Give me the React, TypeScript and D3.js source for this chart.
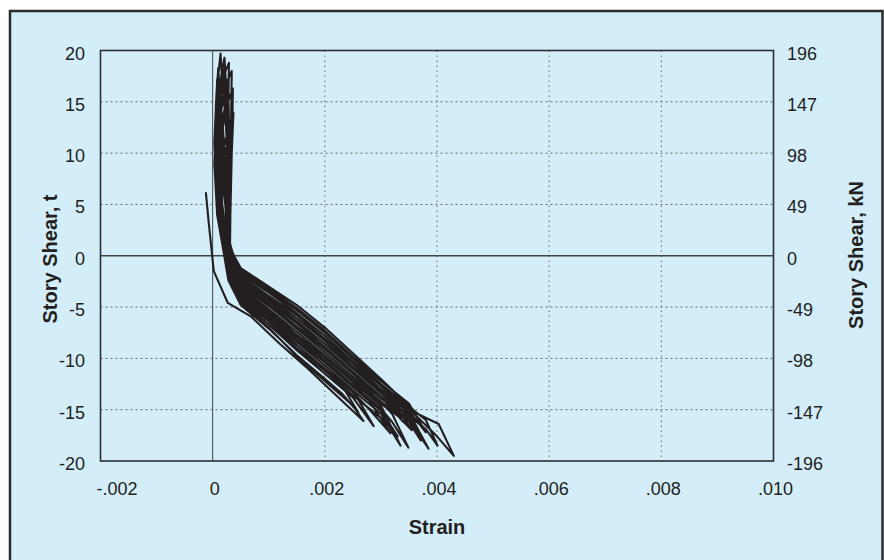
import React from 'react';
import * as d3 from 'd3';

type Pt = [number, number];

const xTicks = [-0.002, 0, 0.002, 0.004, 0.006, 0.008, 0.01];
const xTickLabels = ['-.002', '0', '.002', '.004', '.006', '.008', '.010'];
const yTicks = [20, 15, 10, 5, 0, -5, -10, -15, -20];
const yLeftLabels = ['20', '15', '10', '5', '0', '-5', '-10', '-15', '-20'];
const yRightLabels = ['196', '147', '98', '49', '0', '-49', '-98', '-147', '-196'];

// [strain, story shear (t)]
const cycle01: Pt[] = [[-0.00012, 6.1], [-0.00007, 3.2], [0.00002, -1.5], [0.00027, -4.6], [0.00068, -5.9], [0.0012, -8.6], [0.0017, -11.0], [0.0022, -13.6], [0.00269, -16.1], [0.0025, -14.6], [0.002, -12.2], [0.0015, -9.8], [0.001, -7.0], [0.0005, -4.6], [0.0003, -2.2], [0.00022, 0], [0.0001, 4.5], [0.00004, 9.5], [0.00006, 13.5], [0.0001, 16.2], [0.00018, 13.0], [0.00022, 8.0], [0.00026, 3.0], [0.00028, 0.6]];
const cycle02: Pt[] = [[0.00035, -1.0], [0.0005, -3.9], [0.001, -6.0], [0.0015, -8.4], [0.002, -10.7], [0.0025, -13.1], [0.00287, -16.6], [0.0025, -13.8], [0.002, -11.5], [0.0015, -9.2], [0.001, -6.7], [0.0005, -4.4], [0.0003, -2.0], [0.00021, 0.2], [0.0001, 4], [0.00005, 9], [0.00009, 14], [0.00016, 17.8], [0.00021, 19.3], [0.00024, 16.5], [0.00029, 11], [0.0003, 5], [0.00029, 1.2]];
const cycle03: Pt[] = [[0.00036, -0.6], [0.0005, -2.7], [0.001, -4.7], [0.0015, -6.9], [0.002, -9.1], [0.0025, -11.5], [0.0028, -13.0], [0.0031, -15.6], [0.0027, -13.6], [0.0025, -12.3], [0.002, -9.9], [0.0015, -7.7], [0.001, -5.4], [0.0005, -3.3], [0.0003, -1.5], [0.0002, 0.3], [0.00008, 5], [0.00004, 10], [0.00006, 15], [0.0001, 18.3], [0.00013, 15.5], [0.00022, 10], [0.00027, 5], [0.00027, 1.0]];
const cycle04: Pt[] = [[0.00033, -0.8], [0.0005, -3.5], [0.001, -5.6], [0.0015, -7.9], [0.002, -10.2], [0.0025, -12.6], [0.0028, -14.2], [0.00317, -17.3], [0.0028, -15.0], [0.0025, -13.3], [0.002, -11.0], [0.0015, -8.7], [0.001, -6.2], [0.0005, -4.1], [0.00032, -1.8], [0.00024, 0.4], [0.00012, 4.5], [0.00007, 10], [0.00012, 15], [0.0002, 17.6], [0.00029, 18.8], [0.00028, 15], [0.00031, 9], [0.0003, 3.5], [0.0003, 0.8]];
const cycle05: Pt[] = [[0.00034, -0.7], [0.0005, -3.3], [0.001, -5.4], [0.0015, -7.7], [0.002, -9.9], [0.0025, -12.3], [0.003, -14.6], [0.00335, -18.5], [0.003, -15.4], [0.0025, -13.1], [0.002, -10.7], [0.0015, -8.4], [0.001, -6.0], [0.0005, -3.9], [0.0003, -1.6], [0.00019, 0.5], [0.00008, 5], [0.00003, 11], [0.00007, 16], [0.00014, 19.7], [0.00017, 17], [0.00025, 12], [0.00028, 6], [0.00029, 1.5]];
const cycle06: Pt[] = [[0.00035, -0.5], [0.0005, -2.9], [0.001, -4.9], [0.0015, -7.1], [0.002, -9.4], [0.0025, -11.8], [0.003, -14.2], [0.0032, -15.4], [0.00349, -18.7], [0.0032, -16.2], [0.003, -14.9], [0.0025, -12.6], [0.002, -10.2], [0.0015, -7.9], [0.001, -5.6], [0.0005, -3.5], [0.00031, -1.2], [0.00025, 0.6], [0.00013, 5], [0.0001, 11], [0.00018, 15.5], [0.00026, 17], [0.00034, 18.0], [0.00033, 14], [0.00033, 8], [0.00031, 2.5], [0.0003, 0.5]];
const cycle07: Pt[] = [[0.00037, -0.3], [0.0005, -2.0], [0.001, -3.9], [0.0015, -5.8], [0.002, -8.1], [0.0025, -10.5], [0.003, -13.0], [0.0034, -16.2], [0.003, -13.7], [0.0025, -11.3], [0.002, -8.9], [0.0015, -6.6], [0.001, -4.5], [0.0005, -2.5], [0.00032, -0.8], [0.00022, 0.8], [0.0001, 5], [0.00004, 11], [0.00008, 17.2], [0.00012, 14], [0.0002, 9], [0.00026, 4], [0.00028, 0.9]];
const cycle08: Pt[] = [[0.00037, -0.4], [0.0005, -2.3], [0.001, -4.3], [0.0015, -6.4], [0.002, -8.6], [0.0025, -11.0], [0.003, -13.4], [0.0035, -15.6], [0.00371, -18.0], [0.0035, -16.2], [0.003, -14.2], [0.0025, -11.8], [0.002, -9.4], [0.0015, -7.1], [0.001, -4.9], [0.0005, -2.9], [0.00033, -1.0], [0.00027, 0.7], [0.00016, 5.5], [0.00014, 11], [0.00024, 14.5], [0.00036, 16.3], [0.00035, 12], [0.00032, 6], [0.00031, 1.2]];
const cycle09: Pt[] = [[0.00038, -0.2], [0.0005, -1.6], [0.001, -3.4], [0.0015, -5.3], [0.002, -7.5], [0.0025, -10.0], [0.003, -12.5], [0.0033, -13.8], [0.0036, -16.8], [0.0033, -14.6], [0.003, -13.2], [0.0025, -10.8], [0.002, -8.3], [0.0015, -6.1], [0.001, -4.1], [0.0005, -2.2], [0.00034, -0.6], [0.00026, 1.0], [0.00015, 6], [0.00018, 10], [0.00028, 12.5], [0.00037, 13.9], [0.00034, 10], [0.00032, 5], [0.0003, 1.0]];
const cycle10: Pt[] = [[0.00036, -0.3], [0.0005, -2.2], [0.001, -4.1], [0.0015, -6.1], [0.002, -8.3], [0.0025, -10.8], [0.003, -13.2], [0.0035, -15.3], [0.00385, -18.8], [0.0035, -16.0], [0.003, -13.9], [0.0025, -11.5], [0.002, -9.1], [0.0015, -6.9], [0.001, -4.7], [0.0005, -2.7], [0.00031, -0.9], [0.00023, 0.6], [0.00011, 5], [0.00006, 10.5], [0.00011, 15], [0.00018, 17.6], [0.00022, 14.5], [0.00027, 9], [0.00029, 3], [0.00029, 0.8]];
const cycle11: Pt[] = [[0.00038, -0.1], [0.0005, -1.4], [0.001, -3.2], [0.0015, -5.1], [0.002, -7.3], [0.0025, -9.8], [0.003, -12.2], [0.0035, -14.4], [0.0038, -17.2], [0.0035, -15.1], [0.003, -13.0], [0.0025, -10.5], [0.002, -8.1], [0.0015, -5.8], [0.001, -3.9], [0.0005, -2.0], [0.00034, -0.5], [0.00027, 1.0], [0.00017, 5], [0.00019, 9], [0.00032, 12.2], [0.00033, 8], [0.00031, 3.5], [0.0003, 0.8]];
const cycle12: Pt[] = [[0.00037, -0.2], [0.0005, -1.6], [0.001, -3.4], [0.0015, -5.3], [0.002, -7.5], [0.0025, -10.0], [0.003, -12.5], [0.0035, -14.7], [0.0038, -16.0], [0.00401, -18.5], [0.0038, -16.9], [0.0035, -15.6], [0.003, -13.4], [0.0025, -11.0], [0.002, -8.6], [0.0015, -6.4], [0.001, -4.3], [0.0005, -2.3], [0.00032, -0.7], [0.00024, 0.7], [0.00012, 5], [0.00008, 10], [0.00016, 14.5], [0.00025, 16.8], [0.00027, 13], [0.0003, 7], [0.0003, 1.0]];
const cycle13: Pt[] = [[0.00038, 0], [0.0005, -1.2], [0.001, -3.0], [0.0015, -4.8], [0.002, -7.0], [0.0025, -9.5], [0.003, -12.0], [0.00365, -15.4], [0.00403, -16.4], [0.0043, -19.5], [0.004, -17.6], [0.0035, -14.9], [0.003, -12.7], [0.0025, -10.3], [0.002, -7.8], [0.0015, -5.6], [0.001, -3.6], [0.0005, -1.8], [0.00034, -0.3], [0.00026, 1.2], [0.00014, 6], [0.0001, 12], [0.00015, 16], [0.0002, 18.2], [0.00025, 15], [0.00029, 9], [0.0003, 3], [0.0003, 0.6]];
const cycle14: Pt[] = [[0.00036, -0.2], [0.0005, -1.8], [0.001, -3.6], [0.0015, -5.6], [0.002, -7.8], [0.0025, -10.3], [0.003, -12.7], [0.0034, -14.6], [0.0037, -17.5], [0.0034, -15.3], [0.003, -13.4], [0.0025, -11.0], [0.002, -8.6], [0.0015, -6.4], [0.001, -4.3], [0.0005, -2.3], [0.00031, -0.6], [0.00021, 0.9], [0.00009, 6], [0.00005, 11], [0.00012, 17], [0.00016, 13], [0.00024, 7], [0.00028, 1.5]];
const cycle15: Pt[] = [[0.0003, -0.9], [0.0005, -4.2], [0.001, -6.4], [0.0015, -9.0], [0.002, -11.2], [0.0023, -12.6], [0.0026, -15.3], [0.0023, -13.4], [0.002, -12.0], [0.0015, -9.7], [0.001, -7.1], [0.0005, -4.8], [0.00028, -2.4], [0.0002, 0.2], [0.00008, 4], [0.00003, 9], [0.00008, 15], [0.00012, 12], [0.0002, 7], [0.00026, 2], [0.00028, 0.5]];
const cycle16: Pt[] = [[0.00032, -1.0], [0.0005, -3.7], [0.001, -5.8], [0.0015, -8.2], [0.002, -10.4], [0.0025, -12.8], [0.003, -15.1], [0.0033, -17.6], [0.003, -15.8], [0.0025, -13.6], [0.002, -11.2], [0.0015, -9.0], [0.001, -6.4], [0.0005, -4.2], [0.0003, -1.9], [0.00022, 0.3], [0.0001, 5], [0.00006, 10], [0.00012, 15], [0.00022, 17.8], [0.00025, 14], [0.00029, 8], [0.0003, 2], [0.00029, 0.6]];
const cycle17: Pt[] = [[0.00035, -0.5], [0.0005, -2.5], [0.001, -4.5], [0.0015, -6.6], [0.002, -8.9], [0.0025, -11.3], [0.003, -13.7], [0.0033, -15.0], [0.00355, -17.0], [0.0033, -15.6], [0.003, -14.4], [0.0025, -12.1], [0.002, -9.7], [0.0015, -7.4], [0.001, -5.2], [0.0005, -3.1], [0.00031, -1.0], [0.00024, 0.5], [0.00013, 5], [0.00012, 10], [0.0002, 14], [0.00028, 15.5], [0.0003, 11], [0.00032, 5], [0.0003, 1]];

const cycles: Pt[][] = [cycle01, cycle02, cycle03, cycle04, cycle05, cycle06, cycle07, cycle08, cycle09, cycle10, cycle11, cycle12, cycle13, cycle14, cycle15, cycle16, cycle17];

const FONT = '"Liberation Sans", Arial, Helvetica, sans-serif';
const INK = '#231f20';

export default function App() {
  const W = 884;
  const H = 560;
  const left = 100.5, right = 773.5, top = 50.5, bottom = 461;
  const x = d3.scaleLinear().domain([-0.002, 0.01]).range([left, right]);
  const y = d3.scaleLinear().domain([-20, 20]).range([bottom, top]);
  const line = d3.line<Pt>().x(d => x(d[0])).y(d => y(d[1]));
  const pathD = line(cycles.flat()) || '';

  return (
    <svg width={W} height={H} style={{ position: 'absolute', left: 0, top: 0, display: 'block' }} fontFamily={FONT}>
      <rect x={0} y={0} width={W} height={H} fill="#ffffff" />
      <rect x={10} y={11} width={872.5} height={H} fill="#d3edf9" stroke="#2b2b2b" strokeWidth={2.5} />

      {/* gridlines */}
      {yTicks.filter(t => t !== 0 && Math.abs(t) !== 20).map(t => (
        <line key={'gy' + t} x1={left} x2={right} y1={y(t)} y2={y(t)} stroke="#666" strokeWidth={1} strokeDasharray="2,3" />
      ))}
      {xTicks.filter(t => t > 0.0001 && t < 0.0099).map(t => (
        <line key={'gx' + t} x1={x(t)} x2={x(t)} y1={top} y2={bottom} stroke="#666" strokeWidth={1} strokeDasharray="1.5,3.5" />
      ))}

      {/* zero lines */}
      <line x1={x(0)} x2={x(0)} y1={top} y2={bottom} stroke="#444" strokeWidth={1} />
      <line x1={left} x2={right} y1={y(0)} y2={y(0)} stroke="#444" strokeWidth={1.3} />

      {/* data */}
      <path d={pathD} fill="none" stroke={INK} strokeWidth={2.1} strokeLinejoin="round" strokeLinecap="round" />

      {/* plot frame */}
      <rect x={left} y={top} width={right - left} height={bottom - top} fill="none" stroke="#2e2e2e" strokeWidth={1.6} />

      {/* left tick labels */}
      {yTicks.map((t, i) => (
        <text key={'yl' + t} x={85} y={y(t) + 9} textAnchor="end" fontSize={18} fill={INK}>{yLeftLabels[i]}</text>
      ))}
      {/* right tick labels */}
      {yTicks.map((t, i) => (
        <text key={'yr' + t} x={787} y={y(t) + 9} textAnchor="start" fontSize={18} fill={INK}>{yRightLabels[i]}</text>
      ))}
      {/* bottom tick labels */}
      {xTicks.map((t, i) => (
        <text key={'xl' + t} x={i === 0 ? x(t) - 4 : x(t) + 2} y={495} textAnchor={i === 0 ? 'start' : 'middle'} fontSize={18} fill={INK}>{xTickLabels[i]}</text>
      ))}

      {/* axis titles */}
      <text x={437} y={534} textAnchor="middle" fontSize={20} fontWeight="bold" fill={INK}>Strain</text>
      <text transform={`translate(57,259) rotate(-90)`} textAnchor="middle" fontSize={20} fontWeight="bold" fill={INK}>Story Shear, t</text>
      <text transform={`translate(863,255) rotate(-90)`} textAnchor="middle" fontSize={20} fontWeight="bold" fill={INK}>Story Shear, kN</text>
    </svg>
  );
}
